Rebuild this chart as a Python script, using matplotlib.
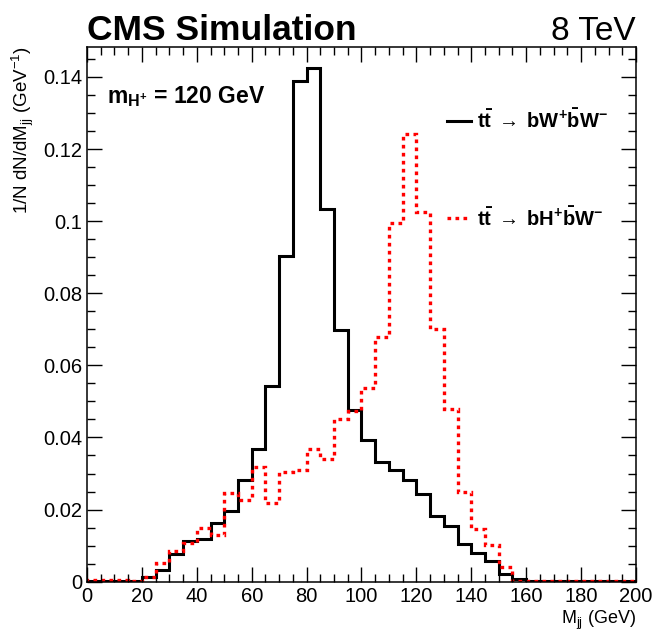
import numpy as np
import matplotlib
matplotlib.use('Agg')
import matplotlib.pyplot as plt
from matplotlib.ticker import MultipleLocator, FuncFormatter

plt.rcParams['font.family'] = ['Liberation Sans', 'DejaVu Sans']
plt.rcParams['mathtext.fontset'] = 'custom'
plt.rcParams['mathtext.rm'] = 'Liberation Sans'
plt.rcParams['mathtext.it'] = 'Liberation Sans'
plt.rcParams['mathtext.bf'] = 'Liberation Sans:bold'

# bin edges, 5 GeV wide
edges = np.arange(0, 205, 5)

# t tbar -> b W+ b W-  (black)
h_ww = [0.0002, 0.0002, 0.0002, 0.0003, 0.0012, 0.0032, 0.0077, 0.0113,
        0.0119, 0.0164, 0.0197, 0.0282, 0.0367, 0.0544, 0.0902, 0.1390,
        0.1424, 0.1033, 0.0698, 0.0476, 0.0393, 0.0333, 0.0310, 0.0281,
        0.0243, 0.0182, 0.0155, 0.0105, 0.0079, 0.0058, 0.0021, 0.0007,
        0.0002, 0.0001, 0.0001, 0.0001, 0.0001, 0.0001, 0.0001, 0.0001]

# t tbar -> b H+ b W-  (red dotted)
h_hw = [0.0005, 0.0006, 0.0006, 0.0002, 0.0012, 0.0051, 0.0086, 0.0108,
        0.0148, 0.0130, 0.0245, 0.0227, 0.0319, 0.0219, 0.0305, 0.0310,
        0.0368, 0.0340, 0.0450, 0.0473, 0.0536, 0.0680, 0.0994, 0.1241,
        0.1026, 0.0701, 0.0479, 0.0248, 0.0146, 0.0103, 0.0040, 0.0003,
        0.0001, 0.0001, 0.0001, 0.0001, 0.0001, 0.0001, 0.0001, 0.0001]

fig = plt.figure(figsize=(6.54, 6.30), dpi=100)
ax = fig.add_axes([0.133, 0.0767, 0.8395, 0.8493])

ax.stairs(h_ww, edges, color='black', lw=2.2,
          label=r'$\mathbf{t\bar{t}}\;\rightarrow\;\mathbf{bW^{+}\bar{b}W^{-}}$')
ax.stairs(h_hw, edges, color='red', lw=2.4, ls=(0, (1.1, 1.3)),
          label=r'$\mathbf{t\bar{t}}\;\rightarrow\;\mathbf{bH^{+}\bar{b}W^{-}}$')

ax.set_xlim(0, 200)
ax.set_ylim(0, 0.1484)

ax.xaxis.set_major_locator(MultipleLocator(20))
ax.xaxis.set_minor_locator(MultipleLocator(5))
ax.yaxis.set_major_locator(MultipleLocator(0.02))
ax.yaxis.set_minor_locator(MultipleLocator(0.005))
ax.yaxis.set_major_formatter(FuncFormatter(lambda v, p: '%g' % round(v, 4)))
ax.tick_params(which='both', direction='in', top=True, right=True,
               labelsize=14.5, width=1.0)
ax.tick_params(which='major', length=11)
ax.tick_params(which='minor', length=5.5)
for s in ax.spines.values():
    s.set_linewidth(1.1)

ax.set_xlabel(r'M$_{\rm jj}$ (GeV)', fontsize=13, loc='right', labelpad=2)
ax.set_ylabel(r'1/N dN/dM$_{\rm jj}$ (GeV$^{-1}$)', fontsize=13.5, loc='top', labelpad=5)

ax.set_title('CMS Simulation', loc='left', fontsize=25.5, fontweight='bold', pad=5)
ax.set_title('8 TeV', loc='right', fontsize=24, pad=5)

ax.text(0.036, 0.895, r'$\mathbf{m_{H^{+}}}$ = 120 GeV', transform=ax.transAxes,
        fontsize=16.5, fontweight='bold', va='baseline')

ax.legend(loc='upper left', bbox_to_anchor=(0.655, 0.885), frameon=False,
          fontsize=14.5, handlelength=1.2, handletextpad=0.3, labelspacing=3.7,
          borderpad=0, borderaxespad=0)

fig.savefig('out.png', dpi=100)
